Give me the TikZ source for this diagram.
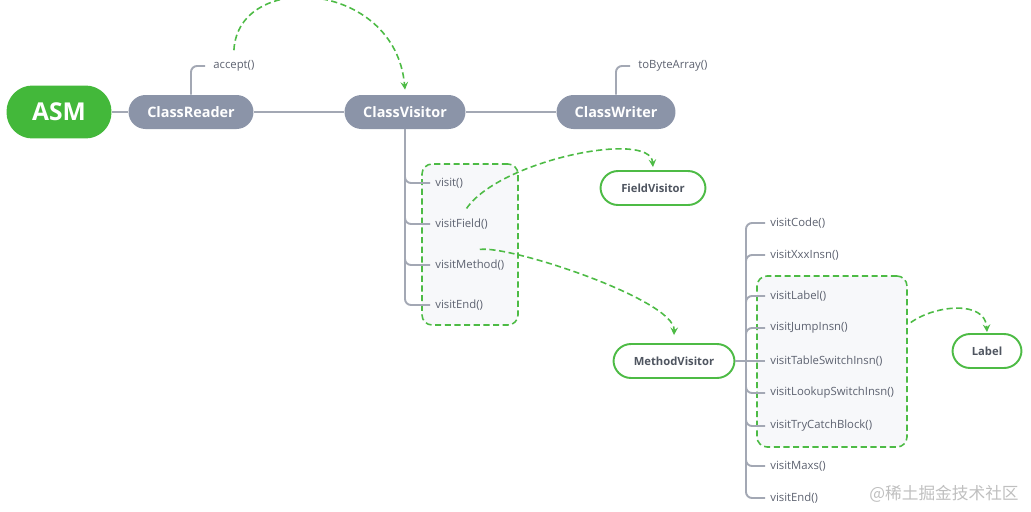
\documentclass[tikz,border=0pt]{standalone}
\usepackage{fontspec}
\setmainfont{Open Sans}
\newfontfamily\cjk{Noto Sans CJK SC}
\usetikzlibrary{positioning}
\definecolor{asmgreen}{HTML}{43B83A}
\definecolor{slate}{HTML}{8B94A8}
\definecolor{pipe}{HTML}{A3A8B4}
\definecolor{linkgreen}{HTML}{4DBB45}
\definecolor{leaftext}{HTML}{4F5560}
\definecolor{calltext}{HTML}{5D6270}
\definecolor{groupfill}{HTML}{F7F8FA}
\tikzset{
  pill/.style={rectangle,rounded corners=0.34cm,fill=slate,text=white,inner sep=0pt,
    minimum height=0.68cm,font=\fontsize{8.2}{9}\selectfont\bfseries},
  leaf/.style={rectangle,rounded corners=0.35cm,draw=linkgreen,line width=1.1pt,fill=white,
    text=leaftext,inner sep=0pt,minimum height=0.68cm,font=\fontsize{6.4}{8}\selectfont\bfseries},
  call/.style={anchor=west,inner sep=0pt,text=calltext,font=\fontsize{6.45}{7}\selectfont},
  twig/.style={draw=pipe,line width=1.1pt,rounded corners=0.12cm},
  group/.style={rectangle,draw=linkgreen,dashed,dash pattern=on 3.5pt off 2pt,line width=0.9pt,
    rounded corners=0.2cm,fill=groupfill,inner sep=0pt},
  link/.style={draw=linkgreen,dash pattern=on 3.5pt off 2pt,line width=0.9pt,-stealth},
}
\begin{document}
\begin{tikzpicture}[x=0.02cm,y=-0.02cm]
\useasboundingbox (0,0) rectangle (1031,511);
% groups
\node[group,minimum width=1.92cm,minimum height=3.22cm] (cgroup) at (470,244.5) {};
\node[group,minimum width=3.0cm,minimum height=3.42cm] (mgroup) at (832,361.5) {};
% main row
\node[rectangle,rounded corners=0.52cm,fill=asmgreen,text=white,minimum width=2.1cm,
  minimum height=1.06cm,font=\fontsize{14}{16}\selectfont\bfseries] (asm) at (59,112) {ASM};
\node[pill,minimum width=2.5cm] (cr) at (191,112) {ClassReader};
\node[pill,minimum width=2.42cm] (cv) at (405,112) {ClassVisitor};
\node[pill,minimum width=2.38cm] (cw) at (616,112) {ClassWriter};
\draw[twig] (asm) -- (cr) -- (cv) -- (cw);
\node[call] (accept) at (213,66) {accept()};
\node[call] (tobytes) at (638,66) {toByteArray()};
\draw[twig] (cr.north) |- ([xshift=-0.16cm]accept.west);
\draw[twig] (cw.north) |- ([xshift=-0.16cm]tobytes.west);
% ClassVisitor calls
\node[call] (visit) at (435,183) {visit()};
\node[call] (field) at (435,224) {visitField()};
\node[call] (method) at (435,265) {visitMethod()};
\node[call] (vend) at (435,305) {visitEnd()};
\foreach \n in {visit,field,method,vend}
  \draw[twig] (cv.south) |- ([xshift=-0.1cm]\n.west);
\node[leaf,minimum width=2.1cm] (fv) at (653,188) {FieldVisitor};
\node[leaf,minimum width=2.42cm] (mv) at (674,361) {MethodVisitor};
\node[leaf,minimum width=1.38cm] (label) at (987,351) {Label};
% MethodVisitor calls
\node[call] (code) at (770,223) {visitCode()};
\node[call] (xxx) at (770,255) {visitXxxInsn()};
\node[call] (vlabel) at (770,296) {visitLabel()};
\node[call] (jump) at (770,328) {visitJumpInsn()};
\node[call] (table) at (770,361) {visitTableSwitchInsn()};
\node[call] (lookup) at (770,393) {visitLookupSwitchInsn()};
\node[call] (trycatch) at (770,426) {visitTryCatchBlock()};
\node[call] (maxs) at (770,466) {visitMaxs()};
\node[call] (mend) at (770,498) {visitEnd()};
\coordinate (mvfork) at (746,361);
\draw[twig] (mv) -- (mvfork);
\foreach \n in {code,xxx,vlabel,jump,lookup,trycatch,maxs,mend}
  \draw[twig] (mvfork) |- ([xshift=-0.1cm]\n.west);
\draw[twig] (mvfork) -- ([xshift=-0.1cm]table.west);
% dashed links
\draw[link] ([yshift=0.2cm]accept.north) .. controls (238,-30) and (395,-20) .. ([yshift=0.1cm]cv.north);
\draw[link] ([xshift=0.1cm,yshift=0.2cm]field.north) .. controls (500,160) and (650,130) .. ([yshift=0.06cm]fv.north);
\draw[link] ([xshift=0.2cm,yshift=0.2cm]method.north) .. controls (510,245) and (675,300) .. ([yshift=0.16cm]mv.north);
\draw[link] ([xshift=0.06cm,yshift=0.78cm]mgroup.east) .. controls (935,305) and (985,300) .. ([yshift=0.02cm]label.north);
% watermark
\node[text=black!25,font=\cjk\fontsize{9.5}{11}\selectfont] (mark) at (944,494) {@稀土掘金技术社区};
\end{tikzpicture}
\end{document}
